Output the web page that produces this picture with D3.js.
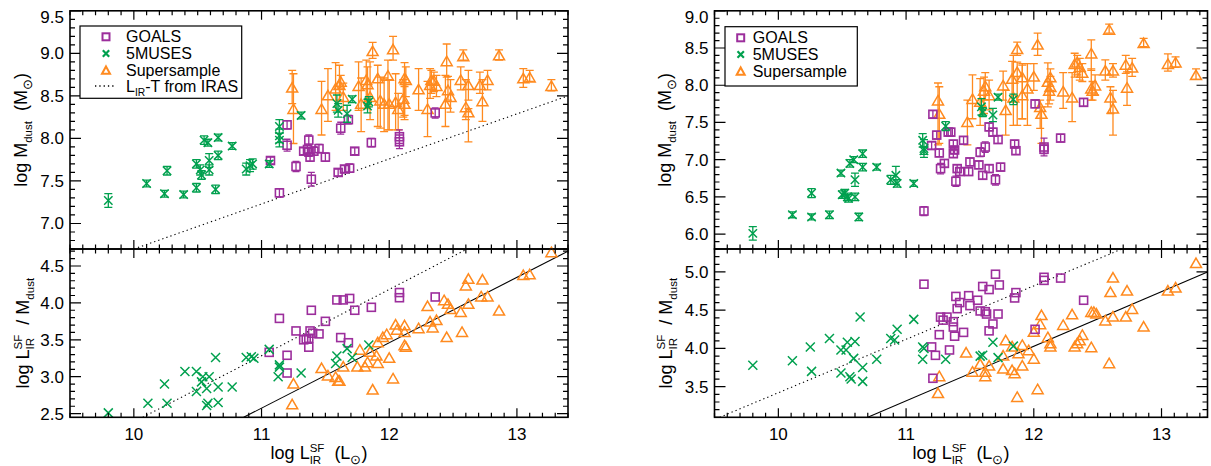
<!DOCTYPE html>
<html><head><meta charset="utf-8">
<script src="https://cdn.jsdelivr.net/npm/d3@7"></script>
<style>
body{margin:0;background:#fff}
svg{display:block}
text{font-family:"Liberation Sans",Arial,Helvetica,sans-serif;fill:#000;white-space:pre}
</style>
</head><body>
<svg id="c" width="1211" height="466"></svg>
<script>
// ---------------- DATA ----------------
const xTickValues = [10, 11, 12, 13];
const leftTopYTicks = [7.0, 7.5, 8.0, 8.5, 9.0, 9.5];
const leftBottomYTicks = [2.5, 3.0, 3.5, 4.0, 4.5];
const rightTopYTicks = [6.0, 6.5, 7.0, 7.5, 8.0, 8.5, 9.0];
const rightBottomYTicks = [3.5, 4.0, 4.5, 5.0];
const legendLabels = ["GOALS", "5MUSES", "Supersample"];

// reference lines (endpoints, data units)
const leftTopIrasLine = [[10.0, 6.70], [13.4, 8.50]];
const leftBottomIrasLine = [[10.07, 2.45], [12.61, 4.73]];
const leftBottomFitLine = [[10.86, 2.45], [13.4, 4.70]];
const rightBottomIrasLine = [[9.54, 3.10], [12.69, 5.30]];
const rightBottomFitLine = [[10.70, 3.10], [13.36, 5.00]];

// LEFT TOP: [logL, logMdust, err]
const leftTopGoals = [[11.07,7.74,0.04],[11.14,7.36,0.05],[11.20,8.16,0.05],[11.20,7.92,0.07],[11.27,7.67,0.06],[11.33,7.85,0.04],[11.36,7.87,0.05],[11.37,7.98,0.06],[11.37,7.84,0.05],[11.38,7.78,0.05],[11.39,7.52,0.08],[11.41,7.85,0.05],[11.45,7.88,0.05],[11.50,7.78,0.05],[11.60,7.60,0.04],[11.62,8.12,0.07],[11.65,7.64,0.04],[11.68,8.22,0.05],[11.69,7.65,0.05],[11.73,7.85,0.04],[11.86,7.95,0.05],[12.08,8.02,0.08],[12.08,7.96,0.08],[12.36,8.30,0.06]];
const leftTop5muses = [[9.80,7.27,0.08],[10.10,7.47,0.04],[10.24,7.35,0.04],[10.26,7.62,0.05],[10.39,7.34,0.04],[10.49,7.42,0.05],[10.49,7.70,0.05],[10.52,7.63,0.06],[10.53,7.57,0.05],[10.55,7.98,0.05],[10.58,7.95,0.04],[10.59,7.74,0.08],[10.59,7.63,0.06],[10.66,8.01,0.04],[10.66,7.80,0.05],[10.64,7.40,0.05],[10.77,7.91,0.04],[10.88,7.64,0.07],[10.91,7.68,0.07],[10.93,7.70,0.06],[11.06,7.70,0.04],[11.14,8.14,0.08],[11.14,8.03,0.08],[11.14,7.98,0.08],[11.31,8.27,0.04],[11.59,8.41,0.10],[11.60,8.33,0.08],[11.67,8.29,0.10],[11.71,8.46,0.04],[11.84,8.43,0.06],[11.83,8.38,0.08]];
// [logL, logMdust, upper end, lower end]
const leftTopSuper = [[11.24,8.60,8.80,8.41],[11.25,8.35,8.76,7.94],[11.47,8.35,8.67,8.04],[11.52,8.51,8.82,8.20],[11.58,8.59,8.89,8.33],[11.61,8.63,8.86,8.45],[11.62,8.67,8.74,8.59],[11.64,8.49,8.65,8.33],[11.76,8.62,8.90,8.33],[11.78,8.41,8.71,8.08],[11.82,8.69,8.92,8.35],[11.83,8.64,8.84,8.45],[11.85,8.49,8.90,8.22],[11.87,9.03,9.13,8.94],[11.91,8.71,8.86,8.14],[11.93,8.45,8.72,8.12],[11.96,8.41,8.71,8.08],[11.99,8.74,8.92,8.10],[12.00,8.41,8.69,8.10],[12.03,9.05,9.20,8.92],[12.05,8.43,8.76,8.10],[12.07,8.35,8.53,8.10],[12.11,8.47,8.69,8.25],[12.12,8.71,8.89,8.22],[12.13,8.69,8.84,8.49],[12.12,8.41,8.61,8.27],[12.23,8.58,8.82,8.33],[12.30,8.35,8.67,8.02],[12.32,8.63,8.82,8.47],[12.33,8.69,8.80,8.53],[12.35,8.68,8.78,8.55],[12.37,8.62,8.74,8.49],[12.44,8.41,8.74,8.14],[12.45,8.91,9.11,8.72],[12.46,8.57,8.73,8.45],[12.48,8.49,8.69,8.31],[12.56,8.69,8.84,8.57],[12.58,8.97,9.04,8.92],[12.60,8.37,8.69,8.22],[12.62,8.63,8.80,8.45],[12.62,8.31,8.35,7.96],[12.71,8.63,8.78,8.53],[12.73,8.44,8.69,8.20],[12.77,8.69,8.80,8.57],[12.86,8.98,9.04,8.92],[13.05,8.71,8.82,8.60],[13.10,8.72,8.80,8.67],[13.27,8.62,8.69,8.56]];

// LEFT BOTTOM: [logL, log L/Mdust]
const leftBottomGoals = [[11.06,3.33],[11.14,3.79],[11.20,3.29],[11.20,3.05],[11.27,3.62],[11.33,3.50],[11.35,3.51],[11.37,3.52],[11.37,3.40],[11.38,3.62],[11.39,3.90],[11.40,3.59],[11.45,3.58],[11.50,3.75],[11.59,4.04],[11.62,3.53],[11.64,4.04],[11.68,3.46],[11.69,4.06],[11.73,3.90],[11.86,3.94],[12.08,4.14],[12.08,4.07],[12.36,4.08]];
const leftBottom5muses = [[9.80,2.51],[10.11,2.64],[10.24,2.90],[10.26,2.64],[10.40,3.07],[10.49,3.07],[10.49,2.80],[10.53,2.93],[10.54,3.00],[10.59,3.00],[10.57,2.84],[10.57,2.61],[10.58,2.64],[10.64,3.26],[10.66,2.86],[10.66,2.65],[10.77,2.86],[10.88,3.26],[10.92,3.27],[10.94,3.25],[11.06,3.37],[11.14,3.16],[11.14,3.13],[11.13,3.00],[11.31,3.05],[11.59,3.28],[11.58,3.18],[11.67,3.38],[11.71,3.26],[11.84,3.43]];
const leftBottomSuper = [[11.24,2.63],[11.25,2.91],[11.47,3.12],[11.52,3.02],[11.58,3.00],[11.60,2.95],[11.61,2.95],[11.64,3.14],[11.75,3.14],[11.77,3.37],[11.81,3.14],[11.83,3.20],[11.85,3.34],[11.87,2.83],[11.90,3.29],[11.91,3.19],[11.91,3.47],[11.95,3.54],[11.98,3.58],[12.00,3.26],[12.03,2.98],[12.05,3.71],[12.06,3.64],[12.12,3.70],[12.12,3.61],[12.12,3.43],[12.13,3.41],[12.23,3.66],[12.30,3.96],[12.32,3.75],[12.34,3.67],[12.37,3.77],[12.45,3.54],[12.43,4.04],[12.46,3.99],[12.48,3.92],[12.56,3.88],[12.57,3.61],[12.62,4.33],[12.60,4.24],[12.62,3.99],[12.73,4.32],[12.72,4.09],[12.77,4.09],[12.86,3.90],[13.05,4.38],[13.10,4.39],[13.27,4.69]];

// RIGHT TOP
const rightTopGoals = [[11.14,6.31,0.06],[11.21,7.61,0.05],[11.20,7.19,0.05],[11.24,7.33,0.05],[11.26,7.09,0.05],[11.27,6.88,0.07],[11.30,6.95,0.05],[11.33,7.37,0.05],[11.35,7.37,0.05],[11.37,7.21,0.05],[11.37,7.08,0.05],[11.38,7.13,0.05],[11.39,6.71,0.07],[11.40,6.88,0.05],[11.42,6.84,0.05],[11.45,7.26,0.05],[11.49,6.84,0.05],[11.50,6.97,0.05],[11.57,6.93,0.05],[11.58,7.10,0.06],[11.60,6.79,0.05],[11.62,7.17,0.07],[11.65,7.44,0.05],[11.65,6.88,0.05],[11.68,7.37,0.05],[11.70,6.73,0.07],[11.72,7.27,0.05],[11.74,6.90,0.05],[11.85,7.21,0.05],[11.86,7.12,0.05],[12.01,7.75,0.05],[12.08,7.17,0.12],[12.08,7.14,0.06],[12.21,7.29,0.05],[12.39,7.77,0.05]];
const rightTop5muses = [[9.80,6.01,0.09],[10.11,6.26,0.04],[10.26,6.23,0.04],[10.26,6.55,0.06],[10.40,6.26,0.05],[10.49,6.82,0.04],[10.50,6.53,0.05],[10.52,6.55,0.05],[10.54,6.50,0.05],[10.55,6.48,0.05],[10.56,6.95,0.05],[10.59,7.00,0.04],[10.60,6.50,0.05],[10.60,6.73,0.09],[10.63,6.23,0.05],[10.66,7.08,0.05],[10.66,6.90,0.05],[10.77,6.90,0.04],[10.88,6.73,0.06],[10.92,6.79,0.12],[10.93,6.68,0.05],[11.06,6.68,0.04],[11.13,7.26,0.09],[11.14,7.15,0.12],[11.14,7.12,0.05],[11.31,7.45,0.06],[11.59,7.71,0.11],[11.60,7.64,0.06],[11.68,7.60,0.09],[11.72,7.84,0.04],[11.84,7.81,0.07]];
const rightTopSuper = [[11.25,7.80,8.03,7.20],[11.26,7.62,7.98,7.22],[11.48,7.51,7.80,7.20],[11.52,7.82,8.14,7.55],[11.58,7.78,8.09,7.46],[11.61,7.93,8.11,7.62],[11.62,7.99,8.17,7.80],[11.65,7.87,8.07,7.67],[11.76,8.00,8.19,7.80],[11.78,7.67,7.93,7.33],[11.83,8.09,8.32,7.78],[11.84,7.84,8.40,7.46],[11.87,8.49,8.58,8.40],[11.87,8.18,8.31,7.46],[11.91,8.11,8.29,7.55],[11.91,7.87,8.27,7.55],[11.95,7.96,8.29,7.46],[12.00,8.12,8.29,7.93],[12.03,8.55,8.70,8.40],[12.06,7.62,7.71,7.22],[12.05,7.71,7.80,7.42],[12.11,8.05,8.30,7.71],[12.13,8.11,8.22,7.93],[12.13,7.98,8.12,7.80],[12.12,7.93,8.05,7.75],[12.23,7.92,8.17,7.69],[12.30,7.84,8.17,7.51],[12.32,8.29,8.43,8.11],[12.34,8.31,8.40,8.14],[12.36,8.25,8.36,8.07],[12.38,8.17,8.29,8.05],[12.45,8.43,8.61,8.20],[12.45,7.96,8.22,7.80],[12.48,8.00,8.14,7.87],[12.46,7.93,8.05,7.80],[12.56,8.20,8.34,8.07],[12.59,8.75,8.82,8.70],[12.60,7.84,7.98,7.62],[12.62,7.69,7.93,7.33],[12.62,8.20,8.29,8.11],[12.72,8.28,8.40,8.16],[12.73,7.97,8.18,7.73],[12.77,8.24,8.36,8.12],[12.86,8.57,8.63,8.52],[13.05,8.29,8.42,8.19],[13.11,8.31,8.38,8.24],[13.27,8.14,8.22,8.08]];

// RIGHT BOTTOM
const rightBottomGoals = [[11.14,4.84],[11.21,3.61],[11.20,4.02],[11.23,3.91],[11.26,4.18],[11.27,4.41],[11.29,4.37],[11.32,4.41],[11.34,3.98],[11.37,4.35],[11.37,4.28],[11.38,4.16],[11.39,4.68],[11.40,4.52],[11.42,4.60],[11.45,4.21],[11.49,4.69],[11.50,4.56],[11.56,4.63],[11.58,4.49],[11.60,4.81],[11.62,4.48],[11.63,4.45],[11.65,4.77],[11.65,4.23],[11.68,4.32],[11.70,4.97],[11.72,4.45],[11.73,4.83],[11.85,4.66],[11.86,4.73],[12.01,4.25],[12.08,4.93],[12.08,4.89],[12.21,4.92],[12.39,4.63]];
const rightBottom5muses = [[9.80,3.78],[10.11,3.84],[10.25,4.02],[10.26,3.70],[10.40,4.13],[10.49,3.68],[10.49,3.98],[10.54,4.08],[10.53,3.98],[10.56,3.63],[10.57,3.60],[10.59,3.87],[10.60,4.09],[10.64,4.41],[10.66,3.75],[10.66,3.57],[10.77,3.86],[10.88,4.13],[10.91,4.11],[10.93,4.25],[11.06,4.38],[11.13,4.02],[11.14,4.00],[11.13,3.86],[11.31,3.86],[11.58,3.90],[11.60,3.91],[11.68,4.08],[11.72,3.88],[11.84,4.03]];
const rightBottomSuper = [[11.25,3.42],[11.26,3.64],[11.47,3.95],[11.52,3.70],[11.58,3.80],[11.62,3.70],[11.62,3.64],[11.65,3.78],[11.78,4.11],[11.76,3.91],[11.76,3.74],[11.83,4.03],[11.83,3.72],[11.85,3.68],[11.87,3.37],[11.88,3.94],[11.91,4.05],[11.91,3.78],[11.96,3.98],[12.00,3.87],[12.00,4.22],[12.03,3.47],[12.05,4.32],[12.06,4.44],[12.11,4.15],[12.13,4.07],[12.13,4.03],[12.23,4.31],[12.30,4.45],[12.32,4.03],[12.34,4.07],[12.36,4.11],[12.38,4.18],[12.45,4.48],[12.45,4.02],[12.47,4.48],[12.49,4.46],[12.56,4.37],[12.59,3.81],[12.60,4.74],[12.62,4.93],[12.62,4.42],[12.72,4.42],[12.73,4.76],[12.77,4.52],[12.86,4.29],[13.05,4.76],[13.11,4.80],[13.27,5.12]];

// ---------------- STYLE / LAYOUT ----------------
const COL = {goals:"#9c2e9c", muses:"#00a04e", sup:"#ff8a1f"};
const svg = d3.select("#c");
const PANEL_TOP = [249, 10.8], PANEL_BOT = [417.3, 249];
const LEFT_X = [70, 568], RIGHT_X = [714.5, 1207.5];
const TICK_FS = 17, TITLE_FS = 18;

function rich(parent, parts, fs) {
  const g = parent.append("g");
  let x = 0, subStart = 0;
  for (const [s, m] of parts) {
    const small = m !== "n";
    const size = m === "sun" ? fs * 0.72 : (small ? fs * 0.64 : fs);
    const dy = (m === "sub" || m === "sun") ? fs * 0.27 : (m === "supS" ? -fs * 0.4 : 0);
    const px = m === "supS" ? subStart : x;
    const t = g.append("text").attr("x", px).attr("y", dy).style("font-size", size + "px").text(s);
    const w = t.node().getComputedTextLength();
    if (m === "sub") subStart = px;
    if (m === "supS") x = Math.max(x, px + w); else x = px + w;
  }
  return {g, width: x};
}

function frame(g, xs, ys, yMajor, showXLabels) {
  const [x0, x1] = xs.range(), [y0, y1] = ys.range();
  const xd = xs.domain(), yd = ys.domain();
  const xMinor = d3.range(Math.ceil(xd[0] * 10 - 1e-6), Math.floor(xd[1] * 10 + 1e-6) + 1).map(v => v / 10)
    .filter(v => Math.abs(v - Math.round(v)) > 1e-6);
  const yMinor = d3.range(Math.ceil(yd[0] * 10 - 1e-6), Math.floor(yd[1] * 10 + 1e-6) + 1).map(v => v / 10)
    .filter(v => Math.abs(v * 2 - Math.round(v * 2)) > 1e-6);
  const p = d3.path();
  const XMAJ = 9, XMIN = 4.5, YMAJ = 11, YMIN = 5;
  xTickValues.forEach(v => { const x = xs(v); p.moveTo(x, y0); p.lineTo(x, y0 - XMAJ); p.moveTo(x, y1); p.lineTo(x, y1 + XMAJ); });
  xMinor.forEach(v => { const x = xs(v); p.moveTo(x, y0); p.lineTo(x, y0 - XMIN); p.moveTo(x, y1); p.lineTo(x, y1 + XMIN); });
  yMajor.forEach(v => { const y = ys(v); p.moveTo(x0, y); p.lineTo(x0 + YMAJ, y); p.moveTo(x1, y); p.lineTo(x1 - YMAJ, y); });
  yMinor.forEach(v => { const y = ys(v); p.moveTo(x0, y); p.lineTo(x0 + YMIN, y); p.moveTo(x1, y); p.lineTo(x1 - YMIN, y); });
  g.append("path").attr("d", p.toString()).attr("stroke", "#000").attr("stroke-width", 1.2).attr("fill", "none");
  g.append("rect").attr("x", x0).attr("y", y1).attr("width", x1 - x0).attr("height", y0 - y1)
    .attr("fill", "none").attr("stroke", "#000").attr("stroke-width", 1.6);
  g.selectAll("text.yl").data(yMajor).join("text").attr("class", "yl")
    .attr("x", x0 - 6).attr("y", d => Math.max(ys(d), y1 + 6)).attr("dy", "0.35em")
    .attr("text-anchor", "end").style("font-size", TICK_FS + "px").text(d => d.toFixed(1));
  if (showXLabels) {
    g.selectAll("text.xl").data(xTickValues).join("text").attr("class", "xl")
      .attr("x", d => xs(d)).attr("y", 440).attr("text-anchor", "middle")
      .style("font-size", TICK_FS + "px").text(d => d);
  }
}

let clipId = 0;
function clipRect(xs, ys) {
  const id = "clip" + (clipId++);
  svg.append("clipPath").attr("id", id).append("rect")
    .attr("x", xs.range()[0]).attr("y", ys.range()[1])
    .attr("width", xs.range()[1] - xs.range()[0]).attr("height", ys.range()[0] - ys.range()[1]);
  return "url(#" + id + ")";
}

function refLine(g, xs, ys, pts, dotted, clip) {
  g.append("path").attr("clip-path", clip)
    .attr("d", d3.line().x(d => xs(d[0])).y(d => ys(d[1]))(pts))
    .attr("fill", "none").attr("stroke", "#000").attr("stroke-width", 1.1)
    .attr("stroke-dasharray", dotted ? "1.3,3" : null);
}

function errBars(g, xs, ys, data, color, cap, hiLo) {
  g.selectAll(null).data(data).join("path")
    .attr("d", d => {
      const x = xs(d[0]);
      const yh = hiLo ? ys(d[2]) : ys(d[1] + d[2]);
      const yl = hiLo ? ys(d[3]) : ys(d[1] - d[2]);
      return `M${x},${yh}V${yl}M${x - cap},${yh}H${x + cap}M${x - cap},${yl}H${x + cap}`;
    })
    .attr("fill", "none").attr("stroke", color).attr("stroke-width", 1.3);
}
function squares(g, xs, ys, data, s) {
  g.selectAll(null).data(data).join("rect")
    .attr("x", d => xs(d[0]) - s / 2).attr("y", d => ys(d[1]) - s / 2)
    .attr("width", s).attr("height", s)
    .attr("fill", "none").attr("stroke", COL.goals).attr("stroke-width", 1.6);
}
function crosses(g, xs, ys, data, r) {
  g.selectAll(null).data(data).join("path")
    .attr("d", d => { const x = xs(d[0]), y = ys(d[1]);
      return `M${x - r},${y - r}L${x + r},${y + r}M${x - r},${y + r}L${x + r},${y - r}`; })
    .attr("fill", "none").attr("stroke", COL.muses).attr("stroke-width", 1.5);
}
function triangles(g, xs, ys, data, w, h) {
  g.selectAll(null).data(data).join("path")
    .attr("d", d => { const x = xs(d[0]), y = ys(d[1]);
      return `M${x},${y - h / 2}L${x + w / 2},${y + h / 2}L${x - w / 2},${y + h / 2}Z`; })
    .attr("fill", "none").attr("stroke", COL.sup).attr("stroke-width", 1.5).attr("stroke-linejoin", "miter");
}

function drawTopPanel(xr, xd, yd, yTicks, goals, muses, sup, irasLine) {
  const xs = d3.scaleLinear().domain(xd).range(xr);
  const ys = d3.scaleLinear().domain(yd).range(PANEL_TOP);
  const g = svg.append("g");
  const clip = clipRect(xs, ys);
  if (irasLine) refLine(g, xs, ys, irasLine, true, clip);
  errBars(g, xs, ys, sup, COL.sup, 4, true);
  triangles(g, xs, ys, sup, 11, 9.5);
  errBars(g, xs, ys, goals, COL.goals, 3.5, false);
  squares(g, xs, ys, goals, 8);
  errBars(g, xs, ys, muses, COL.muses, 4, false);
  crosses(g, xs, ys, muses, 4.2);
  frame(g, xs, ys, yTicks, false);
  return {xs, ys};
}
function drawBottomPanel(xr, xd, yd, yTicks, goals, muses, sup, irasLine, fitLine) {
  const xs = d3.scaleLinear().domain(xd).range(xr);
  const ys = d3.scaleLinear().domain(yd).range(PANEL_BOT);
  const g = svg.append("g");
  const clip = clipRect(xs, ys);
  refLine(g, xs, ys, irasLine, true, clip);
  refLine(g, xs, ys, fitLine, false, clip);
  triangles(g, xs, ys, sup, 11, 9.5);
  squares(g, xs, ys, goals, 8);
  crosses(g, xs, ys, muses, 4.5);
  frame(g, xs, ys, yTicks, true);
  return {xs, ys};
}

drawTopPanel(LEFT_X, [9.5, 13.4], [6.7, 9.5], leftTopYTicks, leftTopGoals, leftTop5muses, leftTopSuper, leftTopIrasLine);
drawBottomPanel(LEFT_X, [9.5, 13.4], [2.45, 4.73], leftBottomYTicks, leftBottomGoals, leftBottom5muses, leftBottomSuper, leftBottomIrasLine, leftBottomFitLine);
drawTopPanel(RIGHT_X, [9.5, 13.36], [5.8, 9.0], rightTopYTicks, rightTopGoals, rightTop5muses, rightTopSuper, null);
drawBottomPanel(RIGHT_X, [9.5, 13.36], [3.1, 5.3], rightBottomYTicks, rightBottomGoals, rightBottom5muses, rightBottomSuper, rightBottomIrasLine, rightBottomFitLine);

// ---------------- TITLES ----------------
const mdustTitle = [["log M", "n"], ["dust", "sub"], ["\u00a0\u00a0(M", "n"], ["\u2299", "sun"], [")", "n"]];
const ratioTitle = [["log L", "n"], ["IR", "sub"], ["SF", "supS"], ["\u00a0\u00a0/ M", "n"], ["dust", "sub"]];
const xTitle = [["log L", "n"], ["IR", "sub"], ["SF", "supS"], ["\u00a0\u00a0(L", "n"], ["\u2299", "sun"], [")", "n"]];

function vTitle(parts, tx, cy) {
  const r = rich(svg, parts, TITLE_FS);
  r.g.attr("transform", `translate(${tx},${cy}) rotate(-90) translate(${-r.width / 2},0)`);
}
function hTitle(parts, cx, by) {
  const r = rich(svg, parts, TITLE_FS);
  r.g.attr("transform", `translate(${cx - r.width / 2},${by})`);
}
vTitle(mdustTitle, 27, (PANEL_TOP[0] + PANEL_TOP[1]) / 2);
vTitle(ratioTitle, 29, (PANEL_BOT[0] + PANEL_BOT[1]) / 2);
vTitle(mdustTitle, 671, (PANEL_TOP[0] + PANEL_TOP[1]) / 2);
vTitle(ratioTitle, 672, (PANEL_BOT[0] + PANEL_BOT[1]) / 2);
hTitle(xTitle, (LEFT_X[0] + LEFT_X[1]) / 2, 459);
hTitle(xTitle, (RIGHT_X[0] + RIGHT_X[1]) / 2, 459);

// ---------------- LEGENDS ----------------
function legend(bx, by, bw, bh, symX, textX, baselines, withIras) {
  const g = svg.append("g");
  g.append("rect").attr("x", bx).attr("y", by).attr("width", bw).attr("height", bh)
    .attr("fill", "#fff").attr("stroke", "#000").attr("stroke-width", 1.2);
  const cy = baselines.map(b => b - 5.5);
  g.append("rect").attr("x", symX - 3.5).attr("y", cy[0] - 3.5).attr("width", 7).attr("height", 7)
    .attr("fill", "none").attr("stroke", COL.goals).attr("stroke-width", 2);
  g.append("path").attr("d", `M${symX - 3.2},${cy[1] - 3.2}L${symX + 3.2},${cy[1] + 3.2}M${symX - 3.2},${cy[1] + 3.2}L${symX + 3.2},${cy[1] - 3.2}`)
    .attr("stroke", COL.muses).attr("stroke-width", 2.2).attr("fill", "none");
  g.append("path").attr("d", `M${symX},${cy[2] - 3.8}L${symX + 4},${cy[2] + 3.5}L${symX - 4},${cy[2] + 3.5}Z`)
    .attr("stroke", COL.sup).attr("stroke-width", 2).attr("fill", "none");
  legendLabels.forEach((l, i) => {
    g.append("text").attr("x", textX).attr("y", baselines[i]).style("font-size", "16px").text(l);
  });
  if (withIras) {
    g.append("path").attr("d", `M${symX - 11},${cy[3]}H${symX + 9}`).attr("stroke", "#000")
      .attr("stroke-width", 1.3).attr("stroke-dasharray", "1.3,3");
    const r = rich(g, [["L", "n"], ["IR", "sub"], ["-T from IRAS", "n"]], 16);
    r.g.attr("transform", `translate(${textX},${baselines[3]})`);
  }
}
legend(80, 26, 161.7, 72.3, 106, 126, [42.3, 59, 75.7, 91.5], true);
legend(725, 26.7, 132.3, 59.3, 740.7, 752.7, [43.3, 60, 76.7], false);
</script>
</body></html>
